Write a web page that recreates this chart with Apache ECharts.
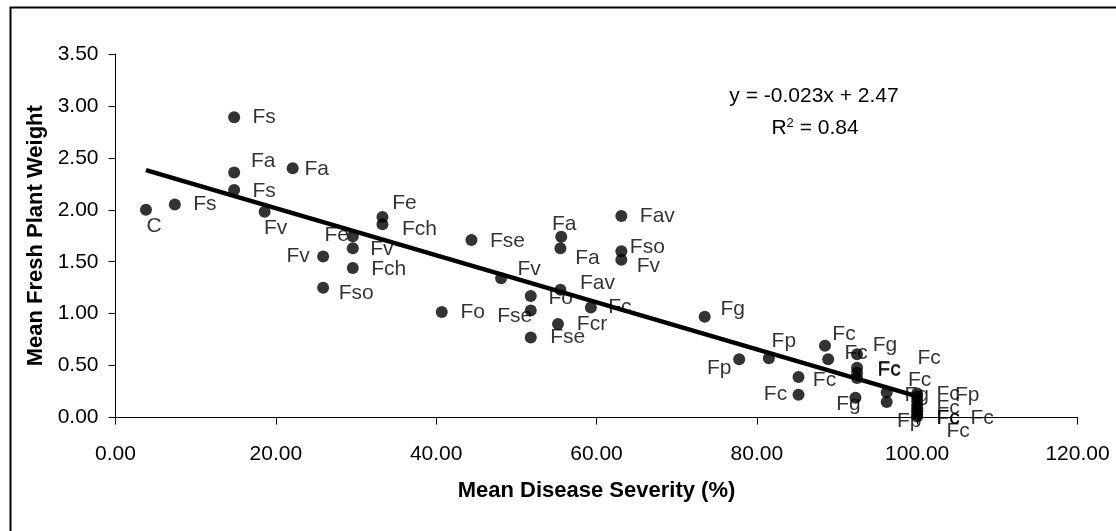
<!DOCTYPE html>
<html><head><meta charset="utf-8">
<script src="https://cdn.jsdelivr.net/npm/echarts@6/dist/echarts.min.js"></script>
<style>html,body{margin:0;padding:0;background:#fff}#c{width:1116px;height:531px}</style>
</head><body><div id="c"></div>
<script>
// ---- data ----
const severity = [3.8, 7.4, 14.8, 14.8, 14.8, 22.1, 18.6, 29.6, 29.6, 25.9, 29.6, 25.9,
  33.3, 33.3, 44.4, 55.6, 55.5, 63.1, 63.1, 63.1, 48.1, 55.5, 40.7, 51.8, 51.8, 51.8,
  55.2, 59.3, 73.5, 77.8, 81.5, 88.5, 88.9, 85.2, 85.2, 92.5, 92.5, 92.5, 92.5, 92.3,
  96.2, 96.2, 100, 100, 100, 100, 100, 100, 100, 100];
const weight = [2.00, 2.05, 2.89, 2.36, 2.19, 2.40, 1.98, 1.745, 1.63, 1.55, 1.44, 1.25,
  1.93, 1.86, 1.71, 1.74, 1.63, 1.94, 1.60, 1.52, 1.34, 1.23, 1.015, 1.17, 1.03, 0.77,
  0.90, 1.06, 0.97, 0.56, 0.57, 0.69, 0.56, 0.39, 0.22, 0.61, 0.48, 0.43, 0.38, 0.19,
  0.24, 0.15, 0.23, 0.20, 0.16, 0.12, 0.09, 0.06, 0.03, 0.01];
const pointLabels = ['C', 'Fs', 'Fs', 'Fa', 'Fs', 'Fa', 'Fv', 'Fe', 'Fv', 'Fv', 'Fch', 'Fso',
  'Fe', 'Fch', 'Fse', 'Fa', 'Fa', 'Fav', 'Fso', 'Fv', 'Fv', 'Fav', 'Fo', 'Fo', 'Fse', 'Fse',
  'Fcr', 'Fc', 'Fg', 'Fp', 'Fp', 'Fc', 'Fc', 'Fc', 'Fc', 'Fg', 'Fc', 'Fc', 'Fc', 'Fg',
  'Fc', 'Fg', 'Fc', 'Fp', 'Fc', 'Fc', 'Fc', 'Fc', 'Fc', 'Fp'];
const xTickValues = [0, 20, 40, 60, 80, 100, 120];
const yTickValues = [0, 0.5, 1, 1.5, 2, 2.5, 3, 3.5];
const xTitle = 'Mean Disease Severity (%)';
const yTitle = 'Mean Fresh Plant Weight';
const equationLine = 'y = -0.023x + 2.47';
const r2Value = '0.84';

// ---- label placement (layout only, pixel offsets from dot centre) ----
const labelOffsets = [[8,16],[30,0],[30,0],[29,-11],[30,1],[24,1],[11,16],[-16,-1],[29,1],[-25,0],[36,1],[33,6],
  [22,-14],[37,5],[36,1],[3,-13],[27,10],[36,0],[26,-4],[27,7],[28,-9],[37,-7],[31,0],[30,2],[-16,6],[37,0],
  [34,0],[29,0],[28,-8],[-20,9],[15,-17],[19,-12],[28,-6],[26,3],[-23,0],[28,-9],[32,2],[32,-3],[72,-20],[-7,6],
  [33,-12],[30,-7],[31,1],[50,-2],[31,7],[31,13],[31,10],[65,7],[41,17],[-8,5]];

// ---- linear trend from the data ----
const n = severity.length;
let sx = 0, sy = 0, sxx = 0, sxy = 0;
for (let i = 0; i < n; i++) { sx += severity[i]; sy += weight[i]; sxx += severity[i]*severity[i]; sxy += severity[i]*weight[i]; }
const slope = (n*sxy - sx*sy) / (n*sxx - sx*sx);
const intercept = (sy - slope*sx) / n;
const xMin = Math.min(...severity), xMax = Math.max(...severity);
const trend = [[xMin, intercept + slope*xMin], [xMax, intercept + slope*xMax]];

const FONT = 'Liberation Sans, Arial, sans-serif';
const SYM = 12;
const chart = echarts.init(document.getElementById('c'), null, {renderer: 'canvas'});
chart.setOption({
  animation: false,
  backgroundColor: '#fff',
  grid: {left: 115.5, right: 38.5, top: 54, bottom: 113.5},
  xAxis: {
    type: 'value', min: xTickValues[0], max: xTickValues[xTickValues.length-1],
    interval: xTickValues[1] - xTickValues[0],
    axisLine: {lineStyle: {color: '#000', width: 1}},
    axisTick: {show: true, length: 7, lineStyle: {color: '#000', width: 1}},
    splitLine: {show: false},
    axisLabel: {formatter: v => v.toFixed(2), color: '#000', fontFamily: FONT, fontSize: 21, margin: 26},
    name: xTitle, nameLocation: 'middle', nameGap: 62,
    nameTextStyle: {color: '#000', fontFamily: FONT, fontSize: 22, fontWeight: 'bold'}
  },
  yAxis: {
    type: 'value', min: yTickValues[0], max: yTickValues[yTickValues.length-1],
    interval: yTickValues[1] - yTickValues[0],
    axisLine: {show: true, lineStyle: {color: '#000', width: 1}},
    axisTick: {show: true, length: 7, lineStyle: {color: '#000', width: 1}},
    splitLine: {show: false},
    axisLabel: {formatter: v => v.toFixed(2), color: '#000', fontFamily: FONT, fontSize: 21, margin: 17},
    name: yTitle, nameLocation: 'middle', nameGap: 68, nameRotate: 90,
    nameTextStyle: {color: '#000', fontFamily: FONT, fontSize: 22, fontWeight: 'bold'}
  },
  series: [
    {
      type: 'scatter', symbol: 'circle', symbolSize: SYM, z: 2,
      itemStyle: {color: '#000'},
      data: severity.map((x, i) => ({
        value: [x, weight[i]],
        label: {position: [SYM/2 + labelOffsets[i][0], SYM/2 + labelOffsets[i][1]]}
      })),
      label: {
        show: true, formatter: p => pointLabels[p.dataIndex],
        color: '#000', fontFamily: FONT, fontSize: 21, align: 'center', verticalAlign: 'middle'
      },
      emphasis: {disabled: true}
    },
    {
      type: 'line', data: trend, symbol: 'none', z: 3,
      lineStyle: {color: '#000', width: 4.5}, silent: true
    }
  ],
  graphic: [
    {type: 'rect', left: 8, top: 5, shape: {width: 1300, height: 700}, style: {fill: null, stroke: '#000', lineWidth: 2}, silent: true},
    {type: 'text', x: 814, y: 96, style: {text: equationLine, font: '21px ' + FONT, fill: '#000', align: 'center', verticalAlign: 'middle'}},
    {type: 'text', x: 815, y: 128, style: {
      text: '{r|R}{s|2}{r| = ' + r2Value + '}',
      rich: {r: {fontSize: 21, fontFamily: FONT, color: '#000', verticalAlign: 'bottom'}, s: {fontSize: 13, fontFamily: FONT, color: '#000', verticalAlign: 'top', padding: [0,0,9,0]}},
      align: 'center', verticalAlign: 'middle'}}
  ]
});
</script></body></html>
